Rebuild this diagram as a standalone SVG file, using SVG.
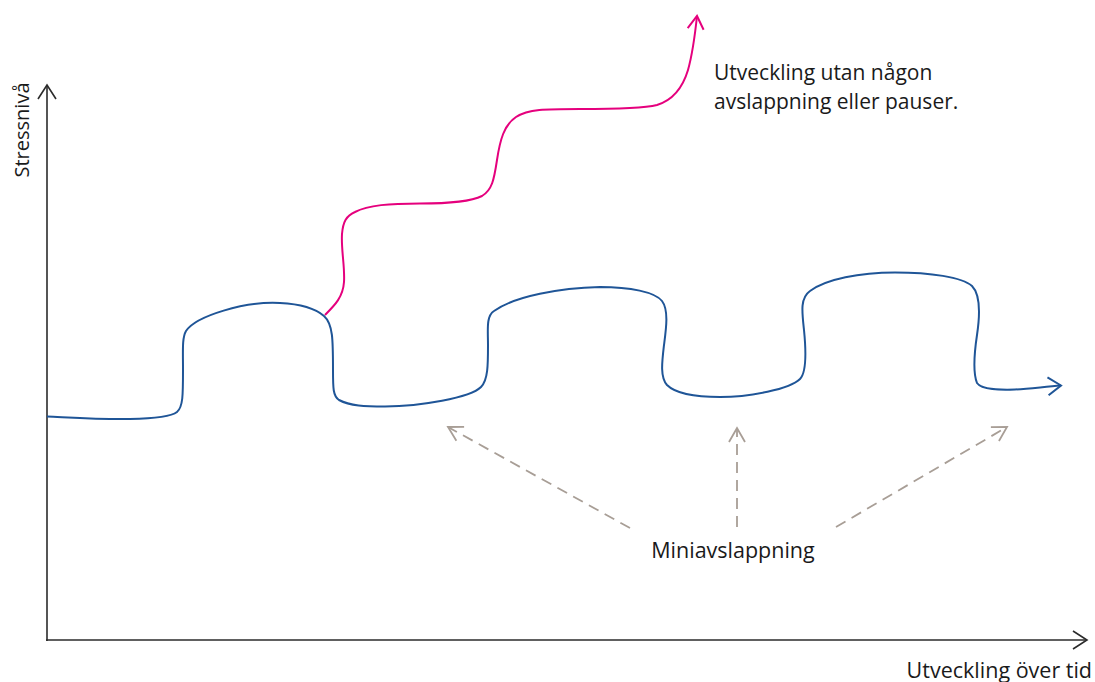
<svg xmlns="http://www.w3.org/2000/svg" width="1095" height="682" viewBox="0 0 1095 682">
<style>
.txt{font-family:"Open Sans","Noto Sans","Liberation Sans",sans-serif;font-size:21.5px;fill:#1a1a1a}
.vt{font-size:20px}
.nt{font-size:21px}
.axis{fill:none;stroke:#2b2b2b;stroke-width:1.6}
.blue{fill:none;stroke:#1f5597;stroke-width:2}
.pink{fill:none;stroke:#e5007d;stroke-width:2}
.dash{fill:none;stroke:#a89e96;stroke-width:1.8;stroke-dasharray:11 7}
</style>
<defs>
<marker id="ahAxis" markerUnits="userSpaceOnUse" viewBox="-16 -11 18 22" refX="0" refY="0" markerWidth="18" markerHeight="22" orient="auto"><path d="M-14,-9 L0,0 L-14,9" fill="none" stroke="#2b2b2b" stroke-width="1.6"/></marker>
<marker id="ahBlue" markerUnits="userSpaceOnUse" viewBox="-16 -11 18 22" refX="0" refY="0" markerWidth="18" markerHeight="22" orient="auto"><path d="M-13,-9 L0,0 L-13,9" fill="none" stroke="#1f5597" stroke-width="2"/></marker>
<marker id="ahPink" markerUnits="userSpaceOnUse" viewBox="-16 -11 18 22" refX="0" refY="0" markerWidth="18" markerHeight="22" orient="auto"><path d="M-13,-8 L0,0 L-13,8" fill="none" stroke="#e5007d" stroke-width="2"/></marker>
<marker id="ahGray" markerUnits="userSpaceOnUse" viewBox="-16 -11 18 22" refX="0" refY="0" markerWidth="18" markerHeight="22" orient="auto"><path d="M-14,-8 L0,0 L-14,8" fill="none" stroke="#a89e96" stroke-width="1.8"/></marker>
</defs>
<g id="axes">
<path class="axis" d="M47,641 L47,85" marker-end="url(#ahAxis)"/>
<path class="axis" d="M46,640 L1087,640" marker-end="url(#ahAxis)"/>
<text class="txt vt" transform="translate(29,130) rotate(-90)" text-anchor="middle">Stressnivå</text>
<text class="txt" x="1092" y="678" text-anchor="end">Utveckling över tid</text>
</g>
<g id="connectors">
<path id="blue-curve" class="blue" marker-end="url(#ahBlue)" d="M47,416.5 C70,417.5 100,419.5 130,419 C155,418.5 172,416 177,412 C183,407 183,395 183,370 C183,350 182,338 186,331 C196,316 245,301 280,303 C300,304 316,309 324,316 C333,324 333,340 333,370 C333,388 333,396 339,400 C350,406 365,406.5 385,406.5 C420,406 470,398 481,387 C488,380 488,365 488,345 C488,330 486,316 494,311 C515,296 560,288 600,287 C630,287 655,292 662,301 C669,310 666,330 664,345 C662,362 660,377 667,385 C677,395 700,397 720,397 C750,397 790,389 800,379 C807,372 806,350 804,330 C802,312 800,298 810,291 C826,279 860,272.5 895,272.5 C930,272.5 962,277 972,286 C980,294 980,315 977,335 C974,355 973,373 977,383 C982,390 1000,390 1015,389.5 C1030,389 1045,386.5 1061,385.5"/>
<path id="pink-curve" class="pink" marker-end="url(#ahPink)" d="M325,315 C335,305 343,297 344,282 C345,266 341,250 342,234 C343,222 346,216 355,212 C368,205 390,203.5 420,203.5 C450,203.5 470,202 482,196 C492,190 494,180 497,160 C500,140 504,125 516,117 C528,109 545,109 580,109 C615,109 645,108 657,105 C670,101 682,90 688,70 C693,52 695,35 697,16"/>
<path id="dash-left" class="dash" marker-end="url(#ahGray)" d="M630,528 L448,427"/>
<path id="dash-mid" class="dash" marker-end="url(#ahGray)" d="M737,527 L737,428"/>
<path id="dash-right" class="dash" marker-end="url(#ahGray)" d="M836,527 L1007,427"/>
</g>
<g id="label-pink">
<text class="txt nt" x="714" y="80">Utveckling utan någon</text>
<text class="txt nt" x="714" y="109">avslappning eller pauser.</text>
</g>
<g id="label-mini">
<text class="txt" x="733" y="558" text-anchor="middle">Miniavslappning</text>
</g>
</svg>
